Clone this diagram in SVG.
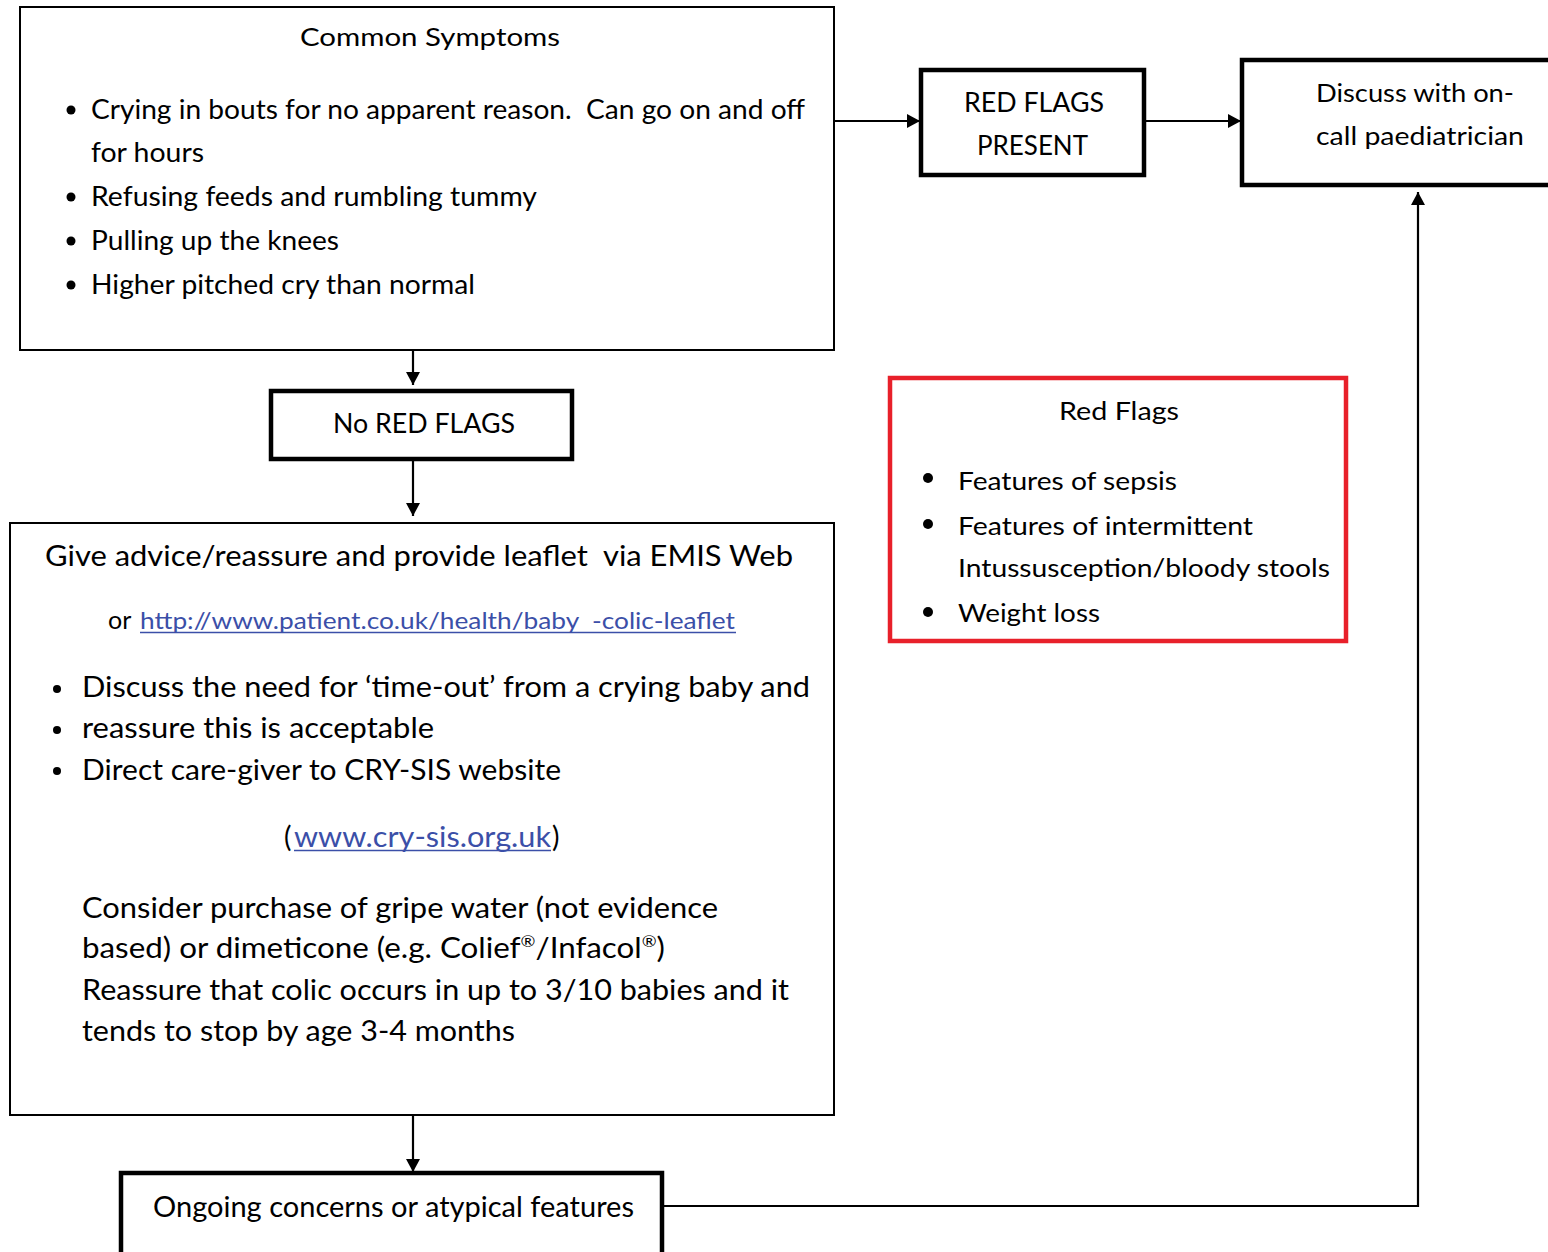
<svg xmlns="http://www.w3.org/2000/svg" width="1548" height="1252" viewBox="0 0 1548 1252">
<style>
text{font-family:Lato,"Open Sans","Liberation Sans",sans-serif;fill:#000;}
.thin{fill:#fff;stroke:#000;stroke-width:2;}
.thick{fill:#fff;stroke:#000;stroke-width:4.5;}
.red{fill:#fff;stroke:#e8202a;stroke-width:4.5;}
.conn{fill:none;stroke:#000;stroke-width:2.2;}
.link{fill:#3b4fa8;}
</style>
<defs>
<marker id="arr" viewBox="0 0 13 14" refX="13" refY="7" markerWidth="13" markerHeight="14" markerUnits="userSpaceOnUse" orient="auto">
<path d="M0,0 L13,7 L0,14 z" fill="#000"/>
</marker>
</defs>
<rect width="1548" height="1252" fill="#fff"/>

<g id="connectors">
<line class="conn" x1="413" y1="350" x2="413" y2="385" marker-end="url(#arr)"/>
<line class="conn" x1="413" y1="459" x2="413" y2="516" marker-end="url(#arr)"/>
<line class="conn" x1="413" y1="1115" x2="413" y2="1172" marker-end="url(#arr)"/>
<line class="conn" x1="834" y1="121" x2="920" y2="121" marker-end="url(#arr)"/>
<line class="conn" x1="1144" y1="121" x2="1241" y2="121" marker-end="url(#arr)"/>
<polyline class="conn" points="662,1206 1418,1206 1418,192" marker-end="url(#arr)"/>
</g>

<g id="common-symptoms">
<rect class="thin" x="20" y="7" width="814" height="343"/>
<text x="300" y="46" font-size="25" textLength="260" lengthAdjust="spacingAndGlyphs">Common Symptoms</text>
<circle cx="71" cy="110" r="4.5"/>
<circle cx="71" cy="197" r="4.5"/>
<circle cx="71" cy="241" r="4.5"/>
<circle cx="71" cy="285" r="4.5"/>
<text x="91" y="119" font-size="26" textLength="714" lengthAdjust="spacingAndGlyphs" xml:space="preserve">Crying in bouts for no apparent reason.  Can go on and off</text>
<text x="91" y="162" font-size="26" textLength="113" lengthAdjust="spacingAndGlyphs">for hours</text>
<text x="91" y="206" font-size="26" textLength="446" lengthAdjust="spacingAndGlyphs">Refusing feeds and rumbling tummy</text>
<text x="91" y="250" font-size="26" textLength="248" lengthAdjust="spacingAndGlyphs">Pulling up the knees</text>
<text x="91" y="294" font-size="26" textLength="384" lengthAdjust="spacingAndGlyphs">Higher pitched cry than normal</text>
</g>

<g id="red-flags-present">
<rect class="thick" x="921" y="70" width="223" height="105"/>
<text x="964" y="112" font-size="26" textLength="140" lengthAdjust="spacingAndGlyphs">RED FLAGS</text>
<text x="977" y="155" font-size="26" textLength="111" lengthAdjust="spacingAndGlyphs">PRESENT</text>
</g>

<g id="discuss-paediatrician">
<rect class="thick" x="1242" y="60" width="330" height="125"/>
<text x="1316" y="102" font-size="25" textLength="198" lengthAdjust="spacingAndGlyphs">Discuss with on-</text>
<text x="1316" y="145" font-size="25" textLength="208" lengthAdjust="spacingAndGlyphs">call paediatrician</text>
</g>

<g id="no-red-flags">
<rect class="thick" x="271" y="391" width="301" height="68"/>
<text x="333" y="433" font-size="26" textLength="182" lengthAdjust="spacingAndGlyphs">No RED FLAGS</text>
</g>

<g id="red-flags-list">
<rect class="red" x="890" y="378" width="456" height="263"/>
<text x="1059" y="420" font-size="25" textLength="120" lengthAdjust="spacingAndGlyphs">Red Flags</text>
<circle cx="928" cy="478" r="5"/>
<circle cx="928" cy="524" r="5"/>
<circle cx="928" cy="612" r="5"/>
<text x="958" y="490" font-size="25" textLength="219" lengthAdjust="spacingAndGlyphs">Features of sepsis</text>
<text x="958" y="535" font-size="25" textLength="295" lengthAdjust="spacingAndGlyphs">Features of intermittent</text>
<text x="958" y="577" font-size="25" textLength="372" lengthAdjust="spacingAndGlyphs">Intussusception/bloody stools</text>
<text x="958" y="622" font-size="25" textLength="142" lengthAdjust="spacingAndGlyphs">Weight loss</text>
</g>

<g id="advice">
<rect class="thin" x="10" y="523" width="824" height="592"/>
<text x="45" y="566" font-size="29" textLength="748" lengthAdjust="spacingAndGlyphs" xml:space="preserve">Give advice/reassure and provide leaflet  via EMIS Web</text>
<text x="108" y="629" font-size="25">or</text>
<text class="link" x="140" y="629" font-size="24" textLength="595" lengthAdjust="spacingAndGlyphs" xml:space="preserve">http://www.patient.co.uk/health/baby  -colic-leaflet</text>
<line x1="140" y1="632.5" x2="736" y2="632.5" stroke="#3b4fa8" stroke-width="1.6"/>
<circle cx="57" cy="689" r="4"/>
<circle cx="57" cy="730" r="4"/>
<circle cx="57" cy="771" r="4"/>
<text x="82" y="697" font-size="28" textLength="728" lengthAdjust="spacingAndGlyphs">Discuss the need for ‘time-out’ from a crying baby and</text>
<text x="82" y="738" font-size="28" textLength="352" lengthAdjust="spacingAndGlyphs">reassure this is acceptable</text>
<text x="82" y="780" font-size="28" textLength="479" lengthAdjust="spacingAndGlyphs">Direct care-giver to CRY-SIS website</text>
<text x="284" y="847" font-size="28">(</text>
<text class="link" x="294" y="847" font-size="28" textLength="257" lengthAdjust="spacingAndGlyphs">www.cry-sis.org.uk</text>
<line x1="294" y1="850.5" x2="551" y2="850.5" stroke="#3b4fa8" stroke-width="1.6"/>
<text x="552" y="847" font-size="28">)</text>
<text x="82" y="918" font-size="28" textLength="636" lengthAdjust="spacingAndGlyphs">Consider purchase of gripe water (not evidence</text>
<text x="82" y="958" font-size="28" textLength="583" lengthAdjust="spacingAndGlyphs">based) or dimeticone (e.g. Colief<tspan font-size="16" dy="-11">®</tspan><tspan dy="11">/Infacol</tspan><tspan font-size="16" dy="-11">®</tspan><tspan dy="11">)</tspan></text>
<text x="82" y="1000" font-size="28" textLength="707" lengthAdjust="spacingAndGlyphs">Reassure that colic occurs in up to 3/10 babies and it</text>
<text x="82" y="1041" font-size="28" textLength="433" lengthAdjust="spacingAndGlyphs">tends to stop by age 3-4 months</text>
</g>

<g id="ongoing-concerns">
<rect class="thick" x="121" y="1173" width="541" height="110"/>
<text x="153" y="1217" font-size="28" textLength="481" lengthAdjust="spacingAndGlyphs">Ongoing concerns or atypical features</text>
</g>
</svg>
